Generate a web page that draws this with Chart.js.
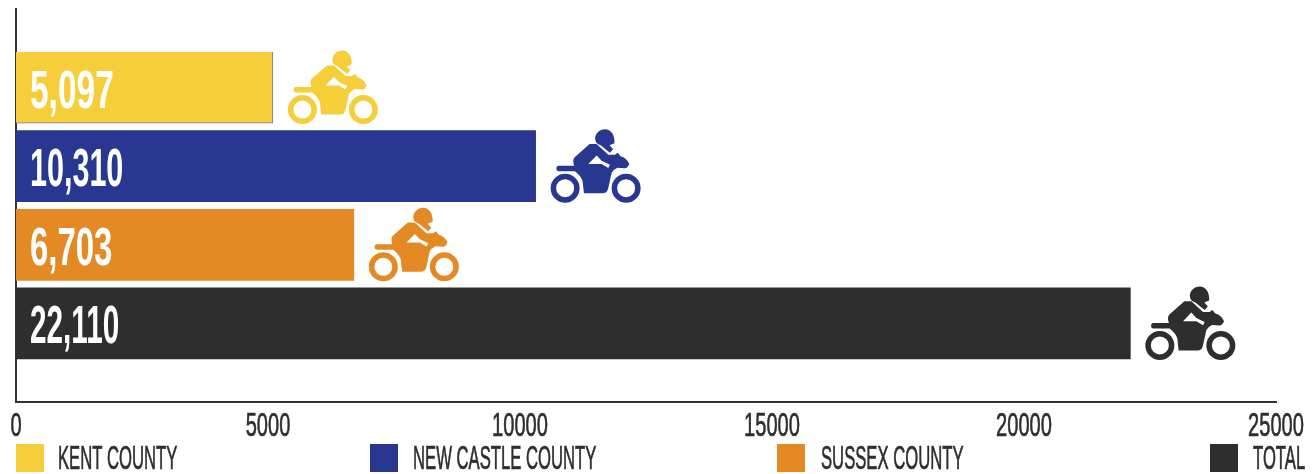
<!DOCTYPE html>
<html>
<head>
<meta charset="utf-8">
<title>Motorcycle registrations by county</title>
<script src="https://cdn.jsdelivr.net/npm/chart.js@4"></script>
<style>
  html, body { margin: 0; padding: 0; background: #fff; }
  #wrap { position: relative; width: 1316px; height: 474px; overflow: hidden; }
  canvas { position: absolute; left: 0; top: 0; }
</style>
</head>
<body>
<div id="wrap"><canvas id="chart" width="1316" height="474"></canvas></div>
<script>
// Data
const categories = ['', 'KENT COUNTY', 'NEW CASTLE COUNTY', 'SUSSEX COUNTY', 'TOTAL', ''];
const kentValues = [null, 5097, null, null, null, null];
const newCastleValues = [null, null, 10310, null, null, null];
const sussexValues = [null, null, null, 6703, null, null];
const totalValues = [null, null, null, null, 22110, null];
const barLabels = ['5,097', '10,310', '6,703', '22,110'];
const tickLabels = [0, 5000, 10000, 15000, 20000, 25000];
const colors = ['#f6ce3a', '#283891', '#e38a25', '#2d2e2d'];

const textFont = '"Liberation Sans Narrow", "Liberation Sans", sans-serif';
// the original face has very narrow ones, so each value gets its own squeeze
const labelSqueeze = [0.62, 0.565, 0.61, 0.55];

// condensed text, canvas has no narrow display face so squeeze it
function narrowText(ctx, str, x, y, size, weight, color, squeeze, align, thicken) {
  ctx.save();
  ctx.font = weight + ' ' + size + 'px ' + textFont;
  ctx.fillStyle = color;
  ctx.textBaseline = 'alphabetic';
  ctx.textAlign = align;
  ctx.translate(x, y);
  ctx.scale(squeeze, 1);
  ctx.fillText(str, 0, 0);
  if (thicken) {
    ctx.strokeStyle = color;
    ctx.lineWidth = thicken;
    ctx.strokeText(str, 0, 0);
  }
  ctx.restore();
}

// motorcycle icon, local box is 91 x 74, origin at top left
function drawBike(ctx, x, y, color) {
  ctx.save();
  ctx.translate(x, y);
  ctx.fillStyle = color;
  // wheels
  for (const cx of [15.5, 76.5]) {
    const wheel = new Path2D();
    wheel.arc(cx, 59.5, 14.5, 0, Math.PI * 2);
    wheel.arc(cx, 59.5, 9, 0, Math.PI * 2, true);
    ctx.fill(wheel, 'evenodd');
  }
  // helmet
  ctx.fill(new Path2D('M55.5 0.5 C49.5 0.5 45.5 5 45.5 10 C45.5 13.5 47.5 15.5 51 16.5 L60.3 24 L63.5 20.5 L60 16.5 L64.8 14.5 C65.5 6 61 0.5 55.5 0.5 Z'));
  // rider, tank and frame
  ctx.fill(new Path2D('M40 15.3 L47 15.3 L58.7 26 L65.3 26 L68 24 L71 27.5 Q77 29 79.7 35.3 Q78 39.5 75 39.5 L67.7 39 Q63.5 41 62 44 L58.7 59.3 Q57.5 64.5 53.7 64.5 L34.3 64.5 L33 52.7 Q32 48 25.3 42.5 L9 42.5 C6 42.5 6 37 9 37 L24.5 37 Q22.5 31 25 28.5 Z'));
  // gap between rider's leg and the tank
  ctx.fillStyle = '#fff';
  ctx.fill(new Path2D('M47 26.7 L38.7 35.3 L52 35.3 L58.7 39.3 L60.3 36 L52 32 Z'));
  ctx.restore();
}

// icons and bar values, placed from the value scale
const barExtras = {
  id: 'barExtras',
  afterDatasetsDraw(chart) {
    const ctx = chart.ctx;
    const xs = chart.scales.x;
    const ys = chart.scales.y;
    const values = [kentValues[1], newCastleValues[2], sussexValues[3], totalValues[4]];
    values.forEach((v, i) => {
      const cy = ys.getPixelForValue(i + 1);
      narrowText(ctx, barLabels[i], xs.getPixelForValue(0) + 14, cy + 20, 54, 'bold', '#fff', labelSqueeze[i], 'left');
      drawBike(ctx, xs.getPixelForValue(v) + 14, cy - 37.5, colors[i]);
    });
    // value axis labels
    xs.ticks.forEach(t => {
      narrowText(ctx, String(t.value), xs.getPixelForValue(t.value), 436, 34, 'normal', '#2d2e2d', 0.59, 'center', 0.7);
    });
  }
};

// legend is spread out by hand like in the original
const legendPlacement = [[16, 58], [370, 413], [777, 821], [1210, 1253]];
const legendLabels = {
  id: 'legendLabels',
  afterDraw(chart) {
    const ctx = chart.ctx;
    legendPlacement.forEach((p, i) => {
      ctx.fillStyle = colors[i];
      ctx.fillRect(p[0], 444, 28, 28);
      narrowText(ctx, categories[i + 1], p[1], 469, 34, 'normal', '#2d2e2d', 0.49, 'left', 0.7);
    });
  }
};

const seriesValues = [kentValues, newCastleValues, sussexValues, totalValues];

new Chart(document.getElementById('chart').getContext('2d'), {
  type: 'bar',
  data: {
    labels: categories,
    datasets: seriesValues.map((vals, i) => ({
      label: categories[i + 1],
      data: vals,
      backgroundColor: colors[i],
      // only the yellow bar has the thin outline in the original
      borderColor: i === 0 ? '#6f7a9c' : colors[i],
      borderWidth: i === 0 ? { right: 1, bottom: 1 } : 0,
      borderSkipped: false,
      barThickness: 71,
      stack: 'all'
    }))
  },
  options: {
    indexAxis: 'y',
    responsive: false,
    animation: false,
    layout: { padding: { left: 8, right: 40, top: 9, bottom: 64 } },
    plugins: { legend: { display: false }, tooltip: { enabled: false } },
    scales: {
      x: {
        min: 0,
        max: 25000,
        afterBuildTicks(axis) { axis.ticks = tickLabels.map(v => ({ value: v })); },
        grid: { display: false },
        border: { color: '#333', width: 2 },
        ticks: { display: false }
      },
      y: {
        offset: false,
        grid: { display: false },
        border: { color: '#333', width: 2 },
        ticks: { display: false }
      }
    }
  },
  plugins: [barExtras, legendLabels]
});
</script>
</body>
</html>
